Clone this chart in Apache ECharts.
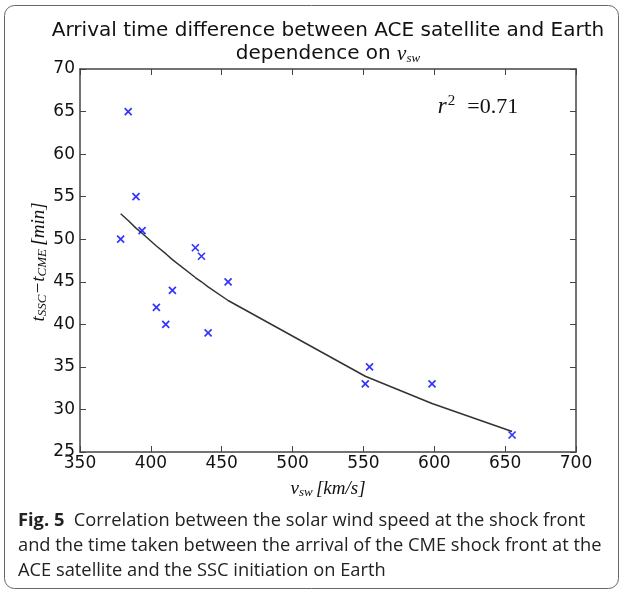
<!DOCTYPE html>
<html><head><meta charset="utf-8">
<script src="https://cdn.jsdelivr.net/npm/echarts@6/dist/echarts.min.js"></script>
<style>html,body{margin:0;padding:0;background:#fff}#c{width:624px;height:596px}</style>
</head><body><div id="c"></div>
<script>
// observed events: solar wind speed (km/s) and delay (min)
const speeds = [378.7, 384.0, 389.5, 393.8, 403.9, 410.5, 415.2, 431.4, 435.7, 440.4, 454.5, 551.3, 554.3, 598.4, 654.9];
const delays = [50, 65, 55, 51, 42, 40, 44, 49, 48, 39, 45, 33, 35, 33, 27];
// fitted curve
const fitSpeeds = [378.7, 384.0, 389.5, 393.8, 403.9, 410.5, 415.2, 431.4, 435.7, 440.4, 454.5, 551.3, 554.3, 598.4, 654.9];
const fitDelays = [53.0, 52.2, 51.3, 50.7, 49.2, 48.3, 47.6, 45.5, 45.0, 44.4, 42.8, 33.9, 33.7, 30.7, 27.4];
const xTicks = [350, 400, 450, 500, 550, 600, 650, 700];
const yTicks = [25, 30, 35, 40, 45, 50, 55, 60, 65, 70];

const chart = echarts.init(document.getElementById('c'), null, {renderer: 'canvas'});
const axisCol = '#444';
const tickFont = {fontFamily: 'DejaVu Sans', fontSize: 17, color: '#111'};
const mathFont = 'Liberation Serif';

function xAx(pos, show) {
  return {
    type: 'value', position: pos, min: xTicks[0], max: xTicks[xTicks.length - 1], interval: 50,
    axisLine: {show: true, onZero: false, lineStyle: {color: axisCol, width: 1.5}},
    axisTick: {show: true, inside: true, length: 6, lineStyle: {color: axisCol, width: 1}},
    axisLabel: Object.assign({show: show, margin: 3, showMinLabel: true, showMaxLabel: true}, tickFont),
    splitLine: {show: false}
  };
}
function yAx(pos, show) {
  return {
    type: 'value', position: pos, min: yTicks[0], max: yTicks[yTicks.length - 1], interval: 5,
    axisLine: {show: true, onZero: false, lineStyle: {color: axisCol, width: 1.5}},
    axisTick: {show: true, inside: true, length: 6, lineStyle: {color: axisCol, width: 1}},
    axisLabel: Object.assign({show: show, margin: 5, showMinLabel: true, showMaxLabel: true}, tickFont),
    splitLine: {show: false}
  };
}

const option = {
  backgroundColor: '#fff',
  animation: false,
  grid: {left: 80, right: 48, top: 69, bottom: 144, containLabel: false},
  xAxis: [xAx('bottom', true), xAx('top', false)],
  yAxis: [yAx('left', true), yAx('right', false)],
  series: [
    {
      type: 'line', xAxisIndex: 0, yAxisIndex: 0,
      data: fitSpeeds.map((s, i) => [s, fitDelays[i]]),
      showSymbol: false, symbol: 'none',
      lineStyle: {color: '#333', width: 1.5}, z: 2
    },
    {
      type: 'scatter', xAxisIndex: 0, yAxisIndex: 0,
      data: speeds.map((s, i) => [s, delays[i]]),
      symbol: 'path://M0,0L10,10M10,0L0,10', symbolSize: 7,
      itemStyle: {color: 'rgba(0,0,0,0)', borderColor: '#0000ff', borderWidth: 1.7}, z: 3
    }
  ],
  graphic: [
    {type: 'rect', shape: {x: 4.5, y: 5.5, width: 614, height: 583, r: 10},
     style: {fill: 'none', stroke: '#666', lineWidth: 1}, silent: true},
    {type: 'text', x: 328, y: 31,
     style: {text: 'Arrival time difference between ACE satellite and Earth', font: '20px "DejaVu Sans"', fill: '#111', align: 'center', verticalAlign: 'middle'}},
    {type: 'text', x: 328, y: 54,
     style: {text: 'dependence on {v|v}{s|sw}', font: '20px "DejaVu Sans"', fill: '#111', align: 'center', verticalAlign: 'middle',
       rich: {v: {fontFamily: mathFont, fontStyle: 'italic', fontSize: 21, fill: '#111'},
              s: {fontFamily: mathFont, fontStyle: 'italic', fontSize: 13, fill: '#111', padding: [9, 0, 0, 0]}}}},
    {type: 'text', x: 478, y: 107,
     style: {text: '{r|r}{p|2}{e|=0.71}', fill: '#111', align: 'center', verticalAlign: 'middle',
       rich: {r: {fontFamily: mathFont, fontStyle: 'italic', fontSize: 23},
              p: {fontFamily: mathFont, fontSize: 15, padding: [0, 0, 11, 1]},
              e: {fontFamily: mathFont, fontSize: 22, padding: [0, 0, 0, 12]}}}},
    {type: 'text', x: 328, y: 489,
     style: {text: '{v|v}{s|sw} {v|[km/s]}', fill: '#111', align: 'center', verticalAlign: 'middle',
       rich: {v: {fontFamily: mathFont, fontStyle: 'italic', fontSize: 19},
              s: {fontFamily: mathFont, fontStyle: 'italic', fontSize: 13, padding: [8, 0, 0, 0]}}}},
    {type: 'text', x: 39, y: 262, rotation: Math.PI / 2,
     style: {text: '{v|t}{s|SSC}{v|−t}{s|CME} {v|[min]}', fill: '#111', align: 'center', verticalAlign: 'middle',
       rich: {v: {fontFamily: mathFont, fontStyle: 'italic', fontSize: 19},
              s: {fontFamily: mathFont, fontStyle: 'italic', fontSize: 13, padding: [8, 0, 0, 0]}}}},
    {type: 'text', x: 18, y: 521,
     style: {text: '{b|Fig. 5}  Correlation between the solar wind speed at the shock front', fill: '#222', verticalAlign: 'middle',
       font: '18.3px "Open Sans"', rich: {b: {fontFamily: 'Open Sans', fontWeight: 'bold', fontSize: 18.3, fill: '#222'}}}},
    {type: 'text', x: 18, y: 546,
     style: {text: 'and the time taken between the arrival of the CME shock front at the', fill: '#222', verticalAlign: 'middle', font: '18.3px "Open Sans"'}},
    {type: 'text', x: 18, y: 571,
     style: {text: 'ACE satellite and the SSC initiation on Earth', fill: '#222', verticalAlign: 'middle', font: '18.3px "Open Sans"'}}
  ]
};
chart.setOption(option);
</script></body></html>
